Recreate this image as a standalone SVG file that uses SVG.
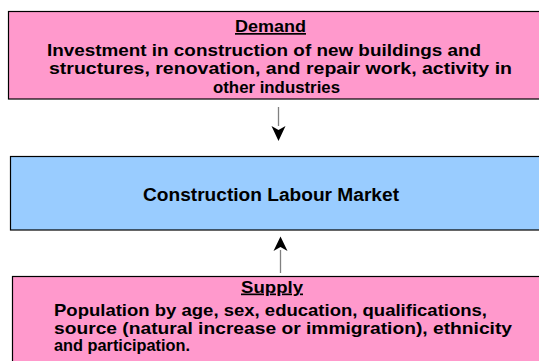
<svg xmlns="http://www.w3.org/2000/svg" width="539" height="361" viewBox="0 0 539 361">
<style>
.box{stroke:#000;stroke-width:1.2}
.pink{fill:#FF99CC}
.blue{fill:#99CCFF}
text{font-family:"Liberation Sans",Arial,sans-serif;font-weight:bold;font-size:17px;fill:#000}
.big{font-size:18px}
.u{text-decoration:underline}
.conn{stroke:#808080;stroke-width:1.3;fill:none}
.head{fill:#000}
</style>
<g id="connectors">
<line class="conn" x1="278.5" y1="107" x2="278.5" y2="126" />
<path class="head" d="M271.5,126 L278.5,130 L285.5,126 L278.5,141 Z"/>
<line class="conn" x1="280.5" y1="273" x2="280.5" y2="250" />
<path class="head" d="M273.5,251 L280.5,247 L287.5,251 L280.5,236.5 Z"/>
</g>
<g id="demand">
<rect class="box pink" x="8.5" y="11.5" width="540" height="87.5"/>
<text class="u" x="235" y="32" textLength="71" lengthAdjust="spacingAndGlyphs">Demand</text>
<text x="47" y="55.5" textLength="434" lengthAdjust="spacingAndGlyphs">Investment in construction of new buildings and</text>
<text x="49" y="74" textLength="463" lengthAdjust="spacingAndGlyphs">structures, renovation, and repair work, activity in</text>
<text x="213" y="92.5" textLength="127" lengthAdjust="spacingAndGlyphs">other industries</text>
</g>
<g id="market">
<rect class="box blue" x="10.5" y="156.5" width="540" height="73.5"/>
<text class="big" x="143" y="201" textLength="256" lengthAdjust="spacingAndGlyphs">Construction Labour Market</text>
</g>
<g id="supply">
<rect class="box pink" x="12.5" y="276.5" width="540" height="100"/>
<text class="u" x="241" y="292.5" textLength="62" lengthAdjust="spacingAndGlyphs">Supply</text>
<text x="54" y="316" textLength="433" lengthAdjust="spacingAndGlyphs">Population by age, sex, education, qualifications,</text>
<text x="54" y="333.5" textLength="458" lengthAdjust="spacingAndGlyphs">source (natural increase or immigration), ethnicity</text>
<text x="54" y="351" textLength="136" lengthAdjust="spacingAndGlyphs">and participation.</text>
</g>
</svg>
